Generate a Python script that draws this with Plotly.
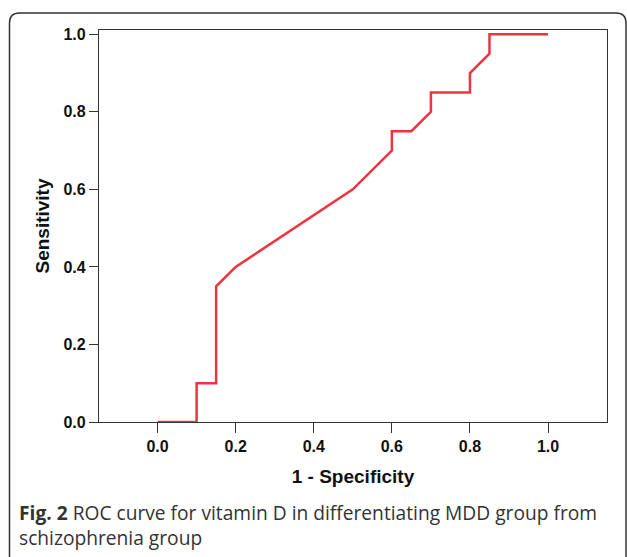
import plotly.graph_objects as go

# ROC curve points (1 - Specificity, Sensitivity)
fpr = [0.0, 0.1, 0.1, 0.15, 0.15, 0.2, 0.5, 0.6, 0.6, 0.65, 0.7, 0.7, 0.8, 0.8, 0.85, 0.85, 1.0]
tpr = [0.0, 0.0, 0.1, 0.1, 0.35, 0.4, 0.6, 0.7, 0.75, 0.75, 0.8, 0.85, 0.85, 0.9, 0.95, 1.0, 1.0]
tick_vals = [0.0, 0.2, 0.4, 0.6, 0.8, 1.0]
tick_text = ["0.0", "0.2", "0.4", "0.6", "0.8", "1.0"]

W, H = 627, 557
ml, mr, mt, mb = 99, 20, 30, 135
pw, ph = W - ml - mr, H - mt - mb

def px(x):
    return (x - ml) / pw

def py(y):
    return (H - mb - y) / ph

fig = go.Figure()
fig.add_trace(go.Scatter(x=fpr, y=tpr, mode="lines",
                         line=dict(color="#EF3340", width=2.5),
                         showlegend=False, hoverinfo="x+y"))

axis_font = dict(family="Liberation Sans, Arial, sans-serif", size=16, color="#111111")
title_font = dict(family="Liberation Sans, Arial, sans-serif", size=19, color="#111111")

fig.update_xaxes(range=[-0.15, 1.151], tickvals=tick_vals,
                 ticktext=[f"<b>{t}</b>" for t in tick_text],
                 ticks="outside", ticklen=10, tickwidth=1.2, tickcolor="#333333",
                 showline=True, linecolor="#333333", linewidth=1.2, mirror=True,
                 showgrid=False, zeroline=False,
                 tickfont=axis_font,
                 title=dict(text="<b>1 - Specificity</b>", font=title_font, standoff=15))
fig.update_yaxes(range=[0, 1.011], tickvals=tick_vals,
                 ticktext=[f"<b>{t}</b>" for t in tick_text],
                 ticks="outside", ticklen=9, tickwidth=1.2, tickcolor="#333333",
                 showline=True, linecolor="#333333", linewidth=1.2, mirror=True,
                 showgrid=False, zeroline=False,
                 tickfont=axis_font,
                 title=dict(text="<b>Sensitivity</b>", font=title_font, standoff=8))

# Outer rounded frame
x0, x1 = px(9.5), px(626)
y0, y1 = py(565), py(13)
rx, ry = 10 / pw, 10 / ph
path = (f"M {x0},{y0} L {x0},{y1-ry} Q {x0},{y1} {x0+rx},{y1} "
        f"L {x1-rx},{y1} Q {x1},{y1} {x1},{y1-ry} L {x1},{y0}")
fig.add_shape(type="path", path=path, xref="paper", yref="paper",
              line=dict(color="#333333", width=1.5))

fig.add_annotation(x=px(17), y=py(497), xref="paper", yref="paper",
                   xanchor="left", yanchor="top", align="left", showarrow=False,
                   text="<b>Fig. 2</b> ROC curve for vitamin D in differentiating MDD group from<br>schizophrenia group",
                   font=dict(family="Open Sans, Noto Sans, sans-serif", size=19.2, color="#333333"))

fig.update_layout(width=W, height=H, margin=dict(l=ml, r=mr, t=mt, b=mb),
                  plot_bgcolor="white", paper_bgcolor="white")

fig.write_html("out.html", config={"displayModeBar": False},
               post_script="document.body.style.margin='0';document.body.style.overflow='hidden';")
